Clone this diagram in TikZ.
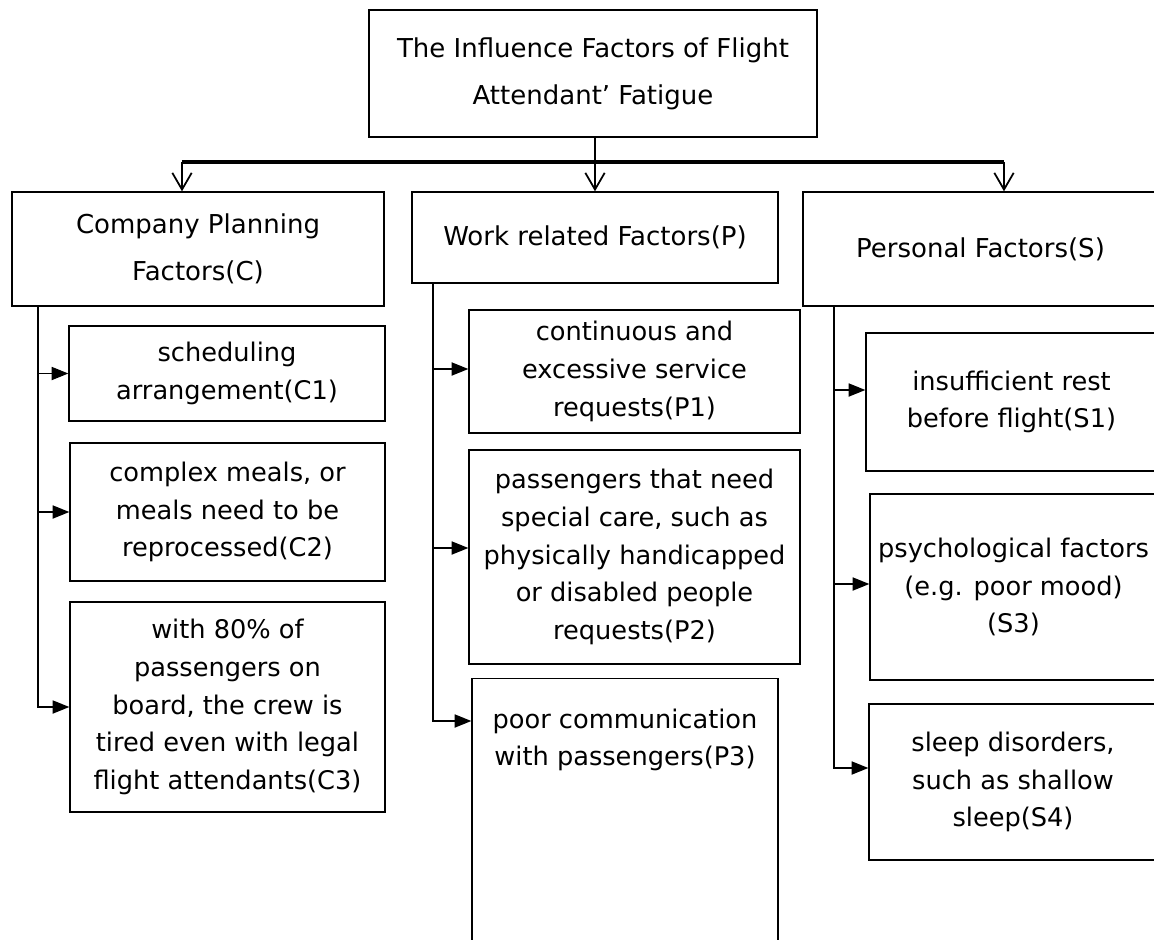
\documentclass[tikz,border=0pt]{standalone}
\usepackage{fontspec}
\setmainfont{DejaVu Sans}
\usetikzlibrary{arrows.meta}

\tikzset{
  box/.style={draw, line width=0.8pt, align=center, inner sep=0pt,
    font=\fontsize{14.6}{21.5}\selectfont},
  headbox/.style={box, font=\fontsize{14.8}{26.8}\selectfont},
  txt/.style={align=center, inner sep=0pt, font=\fontsize{14.6}{21.5}\selectfont},
  down/.style={line width=1.2pt, -{Straight Barb[length=9.5pt,width=11pt,line width=1pt]}},
  side/.style={line width=0.7pt, -{Triangle[length=9.5pt,width=7.5pt]}},
}

\begin{document}
\begin{tikzpicture}[x=0.02cm,y=-0.02cm]
\useasboundingbox (0,0) rectangle (1154,940);
\clip (0,0) rectangle (1154,940);

% top and first level
\node[headbox, minimum width=8.96cm, minimum height=2.54cm] (top) at (593,73.5)
  {The Influence Factors of Flight\\Attendant' Fatigue};
\node[headbox, minimum width=7.44cm, minimum height=2.28cm] (comp) at (198,249)
  {Company Planning\\Factors(C)};
\node[headbox, minimum width=7.32cm, minimum height=1.82cm] (work) at (595,237.5)
  {Work related Factors(P)};
\node[headbox, minimum width=7.1cm, minimum height=2.28cm] (pers) at (980.5,249)
  {Personal Factors(S)};

% company planning
\node[box, minimum width=6.32cm, minimum height=1.9cm] (c1) at (227,373.5)
  {scheduling\\arrangement(C1)};
\node[box, minimum width=6.3cm, minimum height=2.76cm] (c2) at (227.5,512)
  {complex meals, or\\meals need to be\\reprocessed(C2)};
\node[box, minimum width=6.3cm, minimum height=4.2cm] (c3) at (227.5,707)
  {with 80\% of\\passengers on\\board, the crew is\\tired even with legal\\flight attendants(C3)};

% work related
\node[box, minimum width=6.62cm, minimum height=2.46cm] (p1) at (634.5,371.5)
  {continuous and\\excessive service\\requests(P1)};
\node[box, minimum width=6.62cm, minimum height=4.28cm] (p2) at (634.5,557)
  {passengers that need\\special care, such as\\physically handicapped\\or disabled people\\requests(P2)};
\node[box, minimum width=6.12cm, minimum height=5.8cm, anchor=north] (p3) at (625,678) {};
\node[txt] (p3t) at (625,740) {poor communication\\with passengers(P3)};

% personal
\node[box, minimum width=5.82cm, minimum height=2.76cm] (s1) at (1011.5,402)
  {insufficient rest\\before flight(S1)};
\node[box, minimum width=5.74cm, minimum height=3.72cm] (s3) at (1013.5,587)
  {psychological factors\\(e.g. poor mood)\\(S3)};
\node[box, minimum width=5.76cm, minimum height=3.12cm] (s4) at (1013,782)
  {sleep disorders,\\such as shallow\\sleep(S4)};

% branches from the top
\coordinate (barL) at (182,162);
\coordinate (barR) at (1004,162);
\draw[line width=2pt] (barL) -- (barR);
\draw[down] (top.south -| work.north) -- (work.north);
\draw[down] (barL) -- (barL |- comp.north);
\draw[down] (barR) -- (barR |- pers.north);

% spines
\coordinate (cs) at (38,306);
\coordinate (ws) at (433,283);
\coordinate (ps) at (834,306);

\draw[side] (cs) |- (c3.west);
\draw[side] (cs |- c1.west) -- (c1.west);
\draw[side] (cs |- c2.west) -- (c2.west);

\draw[side] (ws) |- (p3.west |- 0,721);
\draw[side] (ws |- 0,369) -- (p1.west |- 0,369);
\draw[side] (ws |- 0,548) -- (p2.west |- 0,548);

\draw[side] (ps) |- (s4.west |- 0,768);
\draw[side] (ps |- 0,390) -- (s1.west |- 0,390);
\draw[side] (ps |- 0,584) -- (s3.west |- 0,584);
\end{tikzpicture}
\end{document}
